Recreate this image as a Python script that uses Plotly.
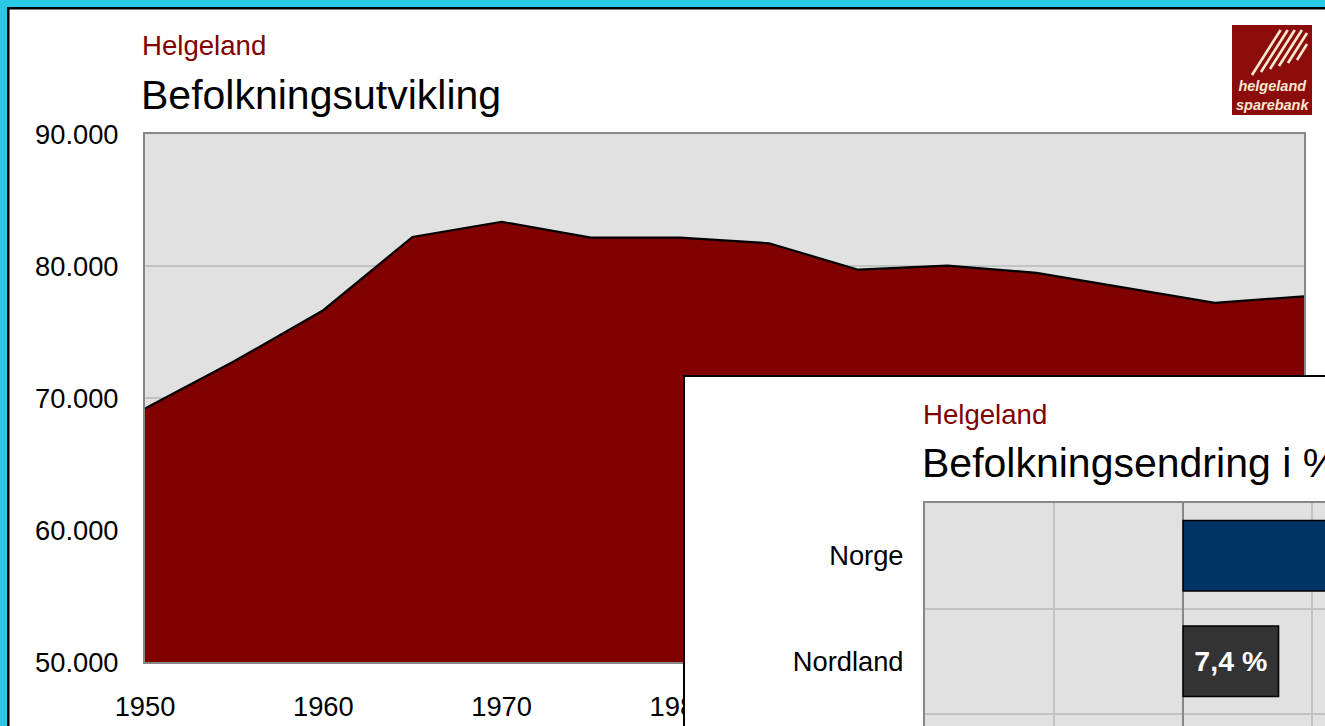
import plotly.graph_objects as go

W, H = 1325, 726

# ---------------- data ----------------
years = [1950, 1955, 1960, 1965, 1970, 1975, 1980, 1985, 1990, 1995, 2000, 2005, 2010, 2015]
population = [69200, 72780, 76650, 82200, 83350, 82150, 82150, 81720, 79720, 80030, 79480, 78350, 77210, 77700]
x_ticks = [1950, 1960, 1970, 1980, 1990, 2000, 2010]
y_ticks = [50000, 60000, 70000, 80000, 90000]

regions = ["Norge", "Nordland"]
change_pct = [58.9, 7.4]
bar_colors = ["#003366", "#333333"]
bar_label_templates = ["", "%{x:.1f} %"]   # Norge label lies outside the visible window

main_kicker = "Helgeland"
main_title = "Befolkningsutvikling"
inset_kicker = "Helgeland"
inset_title = "Befolkningsendring i %"
logo_text = "helgeland<br>sparebank"

FONT = "Liberation Sans, Arial, sans-serif"


def px(x):
    return x / W


def py(y):
    return 1 - y / H


fig = go.Figure()

# main area chart
fig.add_trace(go.Scatter(
    x=years, y=population, mode="lines", fill="tozeroy",
    fillcolor="#800000", line=dict(color="black", width=2.2),
    xaxis="x", yaxis="y", hoverinfo="skip", showlegend=False))

# white inset window (background of the overlapping chart object)
fig.add_trace(go.Scatter(
    x=[0, 1, 1, 0, 0], y=[0, 0, 1, 1, 0], mode="lines", fill="toself",
    fillcolor="white", line=dict(width=0, color="white"),
    xaxis="x2", yaxis="y2", hoverinfo="skip", showlegend=False))

# inset horizontal bars
fig.add_trace(go.Bar(
    y=list(range(len(regions))), x=change_pct, orientation="h",
    width=0.67,
    marker=dict(color=bar_colors, line=dict(color="black", width=1.5)),
    texttemplate=bar_label_templates, textposition="inside", insidetextanchor="middle",
    textfont=dict(color="white", size=28.5, family=FONT, weight="bold"),
    cliponaxis=True, xaxis="x3", yaxis="y3", hoverinfo="skip", showlegend=False))

GRID = "#c3c3c3"
FRAME = "#878787"
tickfont = dict(size=27.3, color="black", family=FONT)

fig.update_layout(
    width=W, height=H,
    autosize=False,
    margin=dict(l=0, r=0, t=0, b=0, pad=0, autoexpand=False),
    paper_bgcolor="white",
    plot_bgcolor="#e1e1e1",
    separators=",.",
    font=dict(family=FONT, color="black"),
    showlegend=False,
    xaxis=dict(
        domain=[px(145), px(1304)], range=[years[0], years[-1]],
        tickmode="array", tickvals=x_ticks, ticks="", automargin=False,
        showgrid=False, zeroline=False,
        showline=True, mirror=True, linecolor=FRAME, linewidth=2,
        tickfont=tickfont, ticklabelstandoff=19, anchor="y", fixedrange=True),
    yaxis=dict(
        domain=[py(662), py(134)], range=[y_ticks[0], y_ticks[-1]],
        tickmode="array", tickvals=y_ticks, tickformat=",d", ticks="", automargin=False,
        showgrid=True, gridcolor=GRID, gridwidth=2, zeroline=False,
        showline=True, mirror=True, linecolor=FRAME, linewidth=2,
        tickfont=tickfont, ticklabelstandoff=19, anchor="x", fixedrange=True),
    xaxis2=dict(
        domain=[px(685), 1.0], range=[0, 1], side="top", automargin=False,
        showline=True, linecolor="black", linewidth=2,
        showticklabels=False, ticks="", showgrid=False, zeroline=False,
        anchor="y2", fixedrange=True),
    yaxis2=dict(
        domain=[0.0, py(377)], range=[0, 1], side="left", automargin=False,
        showline=True, linecolor="black", linewidth=2,
        showticklabels=False, ticks="", showgrid=False, zeroline=False,
        anchor="x2", fixedrange=True),
    xaxis3=dict(
        domain=[px(925), 1.0], range=[-20, 11.0], side="top", automargin=False,
        tickmode="linear", tick0=0, dtick=10,
        showgrid=True, gridcolor=GRID, gridwidth=2,
        zeroline=True, zerolinecolor=FRAME, zerolinewidth=2,
        showline=True, linecolor=FRAME, linewidth=2,
        showticklabels=False, ticks="", anchor="y3", fixedrange=True),
    yaxis3=dict(
        domain=[0.0, py(503)],
        range=[-0.5 + 223 / 105.5, -0.5], automargin=False,
        tickmode="array", tickvals=list(range(len(regions))), ticktext=regions,
        showgrid=False, zeroline=False,
        minor=dict(tickmode="array", tickvals=[i + 0.5 for i in range(len(regions))],
                   showgrid=True, gridcolor=GRID, gridwidth=2, ticks=""),
        showline=True, linecolor=FRAME, linewidth=2, ticks="",
        tickfont=tickfont, ticklabelstandoff=14, anchor="x3", fixedrange=True),
)

annotations = [
    dict(text=main_kicker, x=px(140), y=py(46), font=dict(size=27.6, color="#800000", family=FONT)),
    dict(text=main_title, x=px(139), y=py(95), font=dict(size=41, color="black", family=FONT)),
    dict(text=inset_kicker, x=px(921), y=py(415), font=dict(size=27.6, color="#800000", family=FONT)),
    dict(text=inset_title, x=px(920), y=py(463), font=dict(size=41, color="black", family=FONT)),
]
for a in annotations:
    a.update(xref="paper", yref="paper", xanchor="left", yanchor="middle", showarrow=False)

# logo text
annotations.append(dict(
    text=logo_text, x=px(1272), y=py(95), xref="paper", yref="paper",
    xanchor="center", yanchor="middle", showarrow=False, align="center",
    font=dict(size=14.5, color="#f7e8cf", family=FONT, weight="bold", style="italic")))
fig.update_layout(annotations=annotations)

shapes = []
# logo square
shapes.append(dict(type="rect", xref="paper", yref="paper",
                   x0=px(1232), x1=px(1312), y0=py(115), y1=py(25),
                   fillcolor="#8c0c0c", line=dict(width=0), layer="above"))
# logo stripes
stripes = [((1252, 75), (1280.6, 30)), ((1261, 72), (1287.7, 30)), ((1270, 69), (1294.8, 30)),
           ((1279, 66), (1301.9, 30)), ((1288, 63), (1307, 33)), ((1297, 60), (1307, 44))]
for (xa, ya), (xb, yb) in stripes:
    shapes.append(dict(type="line", xref="paper", yref="paper",
                       x0=px(xa), y0=py(ya), x1=px(xb), y1=py(yb),
                       line=dict(color="#f7e8cf", width=2.6), layer="above"))
# slide border (cyan frame + black edge)
shapes.append(dict(type="rect", xref="paper", yref="paper", x0=0, x1=1, y0=py(7), y1=1.0,
                   fillcolor="#26cbe9", line=dict(width=0), layer="above"))
shapes.append(dict(type="rect", xref="paper", yref="paper", x0=0, x1=px(7), y0=0, y1=1.0,
                   fillcolor="#2bc8e4", line=dict(width=0), layer="above"))
shapes.append(dict(type="line", xref="paper", yref="paper", x0=px(7), x1=1.0, y0=py(8.3), y1=py(8.3),
                   line=dict(color="black", width=2.5), layer="above"))
shapes.append(dict(type="line", xref="paper", yref="paper", x0=px(8.3), x1=px(8.3), y0=0, y1=py(7),
                   line=dict(color="black", width=2.5), layer="above"))
fig.update_layout(shapes=shapes)

fig.write_html(
    "out.html",
    config={"displayModeBar": False},
    post_script="document.body.style.margin='0px';document.body.style.overflow='hidden';",
)
